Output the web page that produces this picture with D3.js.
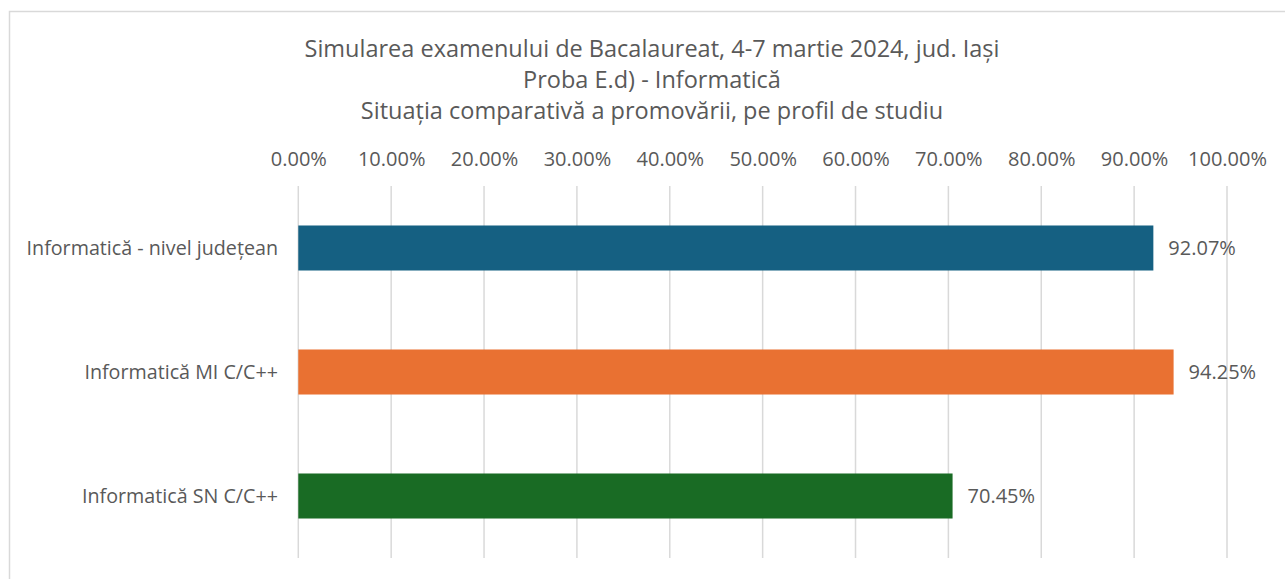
<!DOCTYPE html>
<html><head><meta charset="utf-8">
<script src="https://cdn.jsdelivr.net/npm/d3@7"></script>
<style>body{margin:0;background:#fff}svg{display:block}text{font-family:"Open Sans",sans-serif;fill:#595959}</style>
</head><body>
<script>
const categories = ["Informatică - nivel județean", "Informatică MI C/C++", "Informatică SN C/C++"];
const values = [92.07, 94.25, 70.45];
const colors = ["#156082", "#E97132", "#196B24"];
const ticks = [0,10,20,30,40,50,60,70,80,90,100];
const titleLines = ["Simularea examenului de Bacalaureat, 4-7 martie 2024, jud. Iași", "Proba E.d) - Informatică", "Situația comparativă a promovării, pe profil de studiu"];

const W = 1285, H = 579;
const svg = d3.select("body").append("svg").attr("width", W).attr("height", H);
svg.append("rect").attr("x", 9.5).attr("y", 11.5).attr("width", W + 10).attr("height", H + 10)
  .attr("fill", "none").attr("stroke", "#d9d9d9").attr("stroke-width", 1.5);

const x = d3.scaleLinear().domain([0, 100]).range([298.3, 1227]);
const y = d3.scaleBand().domain(categories).range([186, 558]).paddingInner(0.637).paddingOuter(0.3185);

svg.append("g").selectAll("text").data(titleLines).join("text")
  .attr("x", 652).attr("y", (d, i) => 57 + i * 31)
  .attr("text-anchor", "middle").style("font-size", "23.5px").text(d => d);

const gx = svg.append("g").attr("transform", "translate(0,166)")
  .call(d3.axisTop(x).tickValues(ticks).tickSize(0).tickPadding(0).tickFormat(d => d.toFixed(2) + "%"));
gx.select(".domain").remove();
gx.selectAll("text").style("font-size", "20px").attr("fill", "#595959").attr("dy", "0");

svg.append("g").selectAll("line").data(ticks).join("line")
  .attr("x1", d => x(d)).attr("x2", d => x(d)).attr("y1", 186).attr("y2", 558)
  .attr("stroke", "#d9d9d9").attr("stroke-width", 1.5);

svg.append("g").selectAll("rect").data(values).join("rect")
  .attr("x", x(0)).attr("y", (d, i) => y(categories[i]))
  .attr("width", d => x(d) - x(0)).attr("height", y.bandwidth())
  .attr("fill", (d, i) => colors[i]);

svg.append("g").selectAll("text").data(values).join("text")
  .attr("x", d => x(d) + 15).attr("y", (d, i) => y(categories[i]) + y.bandwidth() / 2).attr("dy", "0.35em")
  .style("font-size", "20px").text(d => d.toFixed(2) + "%");

svg.append("g").selectAll("text").data(categories).join("text")
  .attr("x", 278).attr("y", d => y(d) + y.bandwidth() / 2).attr("dy", "0.35em")
  .attr("text-anchor", "end").style("font-size", "19.7px").text(d => d);
</script>
</body></html>
